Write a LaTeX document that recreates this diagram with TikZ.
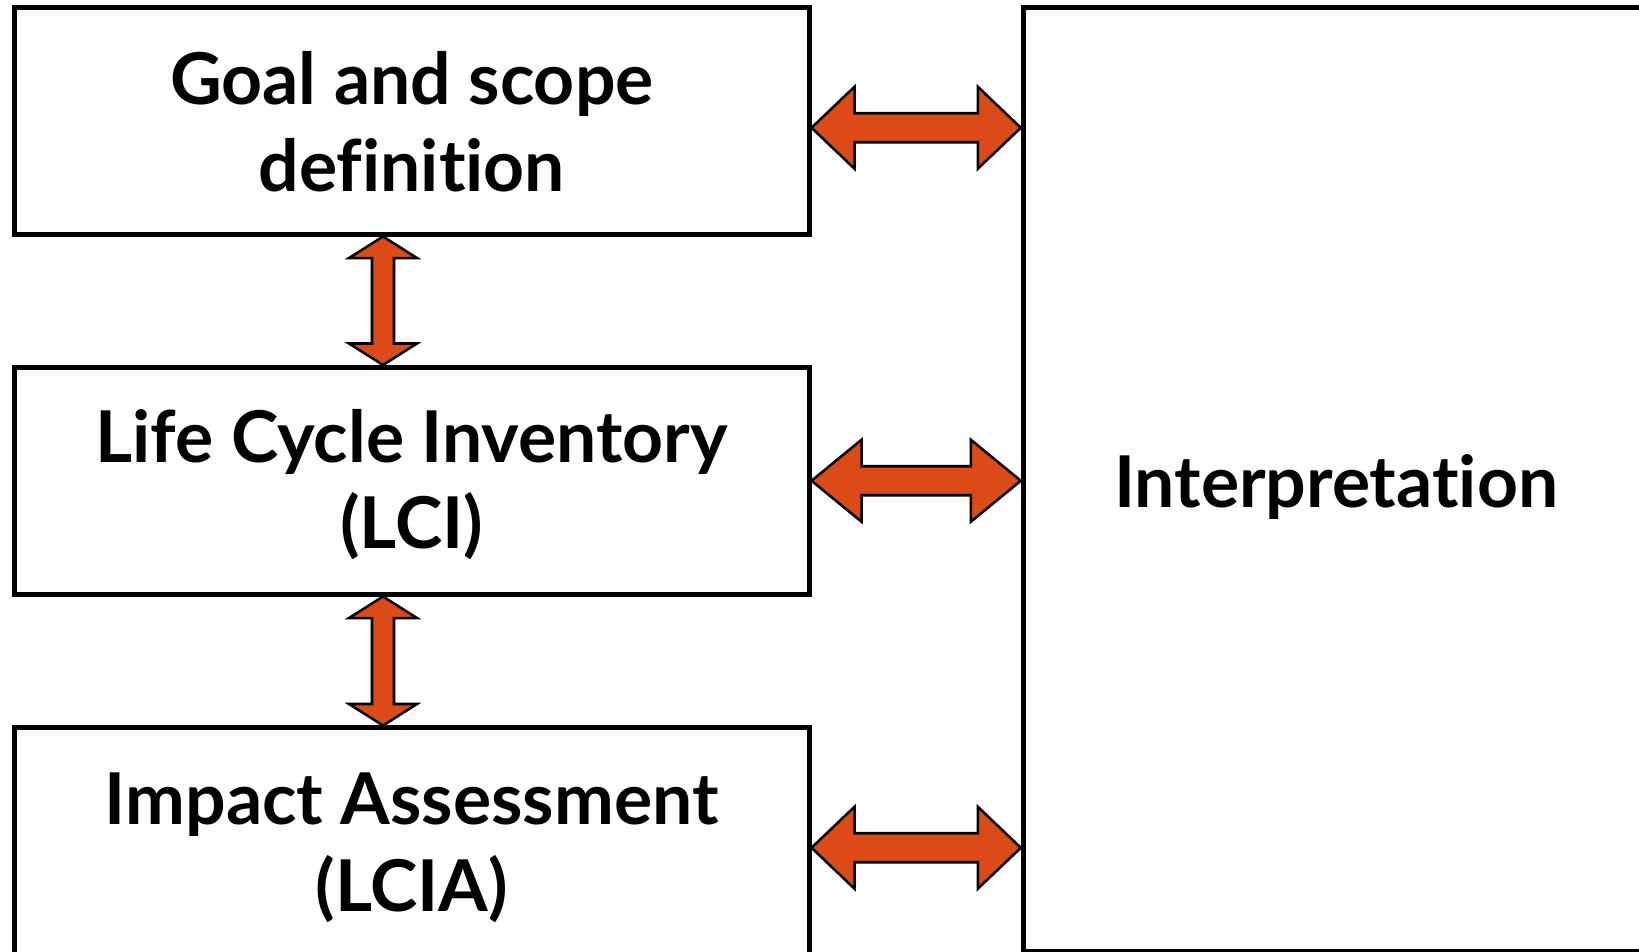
\documentclass[tikz,border=0pt]{standalone}
\usepackage{fontspec}
\setmainfont{Lato}[Ligatures=NoCommon]
\usetikzlibrary{positioning,calc}
\definecolor{flame}{HTML}{DC4A17}
\tikzset{
  % the stages of the assessment (boxes on the left, one tall box on the right)
  stage/.style={draw=black, line width=3.75pt, fill=white, inner sep=0pt,
    minimum width=595.9pt, minimum height=169.9pt, align=center,
    text depth=0pt, text height=105.4pt,
    font=\fontsize{53.6}{65}\selectfont\bfseries},
  tallstage/.style={stage, minimum width=469.3pt, minimum height=708pt,
    text height=41.3pt},
  % fat two-headed arrows between the stages
  bigarrow/.style={draw=black, fill=flame, line width=1.9pt, line join=miter},
}
% \hbiarrow[head length]{left tip}{right tip}
\newcommand{\hbiarrow}[3][43]{%
  \draw[bigarrow] (#2) -- ++(#1,-41) -- ++(0,26.5) -- ($(#3)+(-#1,-14.5)$)
    -- ++(0,-26.5) -- (#3) -- ++(-#1,41) -- ++(0,-26.5) -- ($(#2)+(#1,14.5)$)
    -- ++(0,26.5) -- cycle;}
% \vbiarrow{top tip}{bottom tip}
\newcommand{\vbiarrow}[2]{%
  \draw[bigarrow] (#1) -- ++(34,21.5) -- ++(-23,0) -- ($(#2)+(11,-21.5)$)
    -- ++(23,0) -- (#2) -- ++(-34,-21.5) -- ++(23,0) -- ($(#1)+(-11,21.5)$)
    -- ++(-23,0) -- cycle;}

\begin{document}
\begin{tikzpicture}[x=0.75pt,y=-0.75pt]
\useasboundingbox (0,0) rectangle (1639,951);

% ----- stages -----
\node[stage] (goal) at (411.75,120.75) {Goal and scope\\definition};
\node[stage, text height=102pt] (lci) at (411.75,480.75) {Life Cycle Inventory\\(LCI)};
\node[stage] (lcia) at (411.75,841.25) {Impact Assessment\\(LCIA)};
\node[tallstage] (interp) at (1336.2,479.5) {Interpretation};

% ----- arrows to interpretation -----
\coordinate (ga) at ($(goal.east)+(0,7)$);
\coordinate (gb) at (ga -| interp.west);
\hbiarrow{ga}{gb}
\coordinate (la) at (lci.east);
\coordinate (lb) at (la -| interp.west);
\hbiarrow[50]{la}{lb}
\coordinate (ca) at ($(lcia.east)+(0,6.5)$);
\coordinate (cb) at (ca -| interp.west);
\hbiarrow{ca}{cb}

% ----- arrows down the left column -----
\coordinate (g1) at ($(goal.south)+(-28.75,0)$);
\coordinate (l1) at (g1 |- lci.north);
\vbiarrow{g1}{l1}
\coordinate (l2) at ($(lci.south)+(-28.75,0)$);
\coordinate (c2) at (l2 |- lcia.north);
\vbiarrow{l2}{c2}

\end{tikzpicture}
\end{document}
